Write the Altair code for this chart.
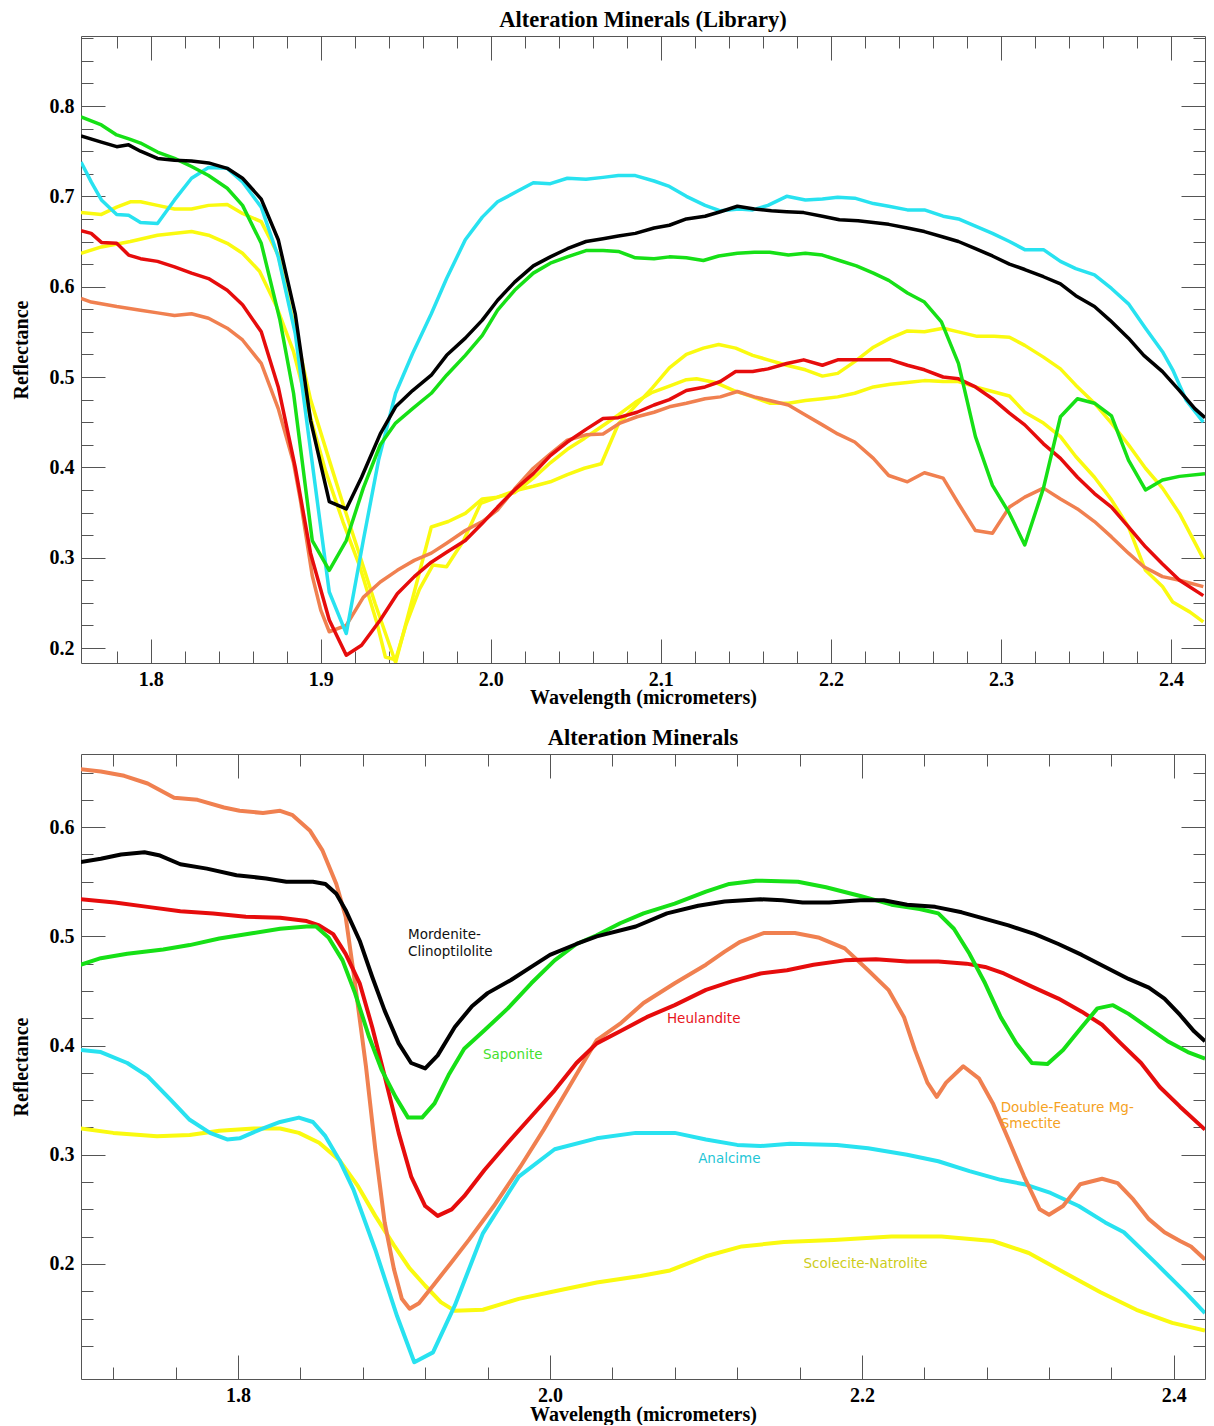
import altair as alt
import pandas as pd

# ---------------- data: top panel (library spectra) ----------------
top_black = [(1.759,0.767),(1.771,0.760),(1.780,0.755),(1.787,0.757),(1.794,0.750),(1.804,0.742),(1.814,0.740),(1.824,0.739),(1.834,0.737),(1.845,0.731),(1.854,0.720),(1.865,0.697),(1.875,0.652),(1.885,0.570),(1.894,0.452),(1.905,0.362),(1.915,0.354),(1.924,0.389),(1.935,0.437),(1.944,0.467),(1.954,0.485),(1.965,0.502),(1.974,0.524),(1.985,0.543),(1.995,0.563),(2.004,0.585),(2.014,0.605),(2.025,0.623),(2.035,0.633),(2.045,0.642),(2.056,0.650),(2.066,0.653),(2.075,0.656),(2.085,0.659),(2.096,0.665),(2.105,0.668),(2.115,0.675),(2.126,0.678),(2.135,0.683),(2.145,0.689),(2.155,0.686),(2.165,0.684),(2.174,0.683),(2.184,0.682),(2.195,0.678),(2.205,0.674),(2.216,0.673),(2.225,0.671),(2.234,0.669),(2.245,0.665),(2.255,0.661),(2.266,0.655),(2.275,0.650),(2.285,0.642),(2.295,0.634),(2.305,0.625),(2.314,0.619),(2.325,0.611),(2.335,0.603),(2.344,0.590),(2.355,0.578),(2.364,0.563),(2.375,0.543),(2.384,0.524),(2.395,0.506),(2.405,0.485),(2.414,0.465),(2.420,0.455)]
top_green = [(1.759,0.788),(1.771,0.779),(1.780,0.768),(1.788,0.763),(1.794,0.759),(1.804,0.749),(1.814,0.742),(1.824,0.733),(1.834,0.723),(1.845,0.709),(1.854,0.690),(1.865,0.648),(1.876,0.563),(1.884,0.482),(1.895,0.319),(1.905,0.286),(1.915,0.319),(1.925,0.377),(1.935,0.425),(1.944,0.449),(1.954,0.465),(1.965,0.482),(1.974,0.502),(1.985,0.524),(1.995,0.546),(2.004,0.574),(2.014,0.596),(2.025,0.615),(2.035,0.626),(2.045,0.633),(2.056,0.640),(2.066,0.640),(2.075,0.639),(2.085,0.632),(2.096,0.631),(2.105,0.633),(2.115,0.632),(2.125,0.629),(2.134,0.634),(2.145,0.637),(2.155,0.638),(2.164,0.638),(2.175,0.635),(2.185,0.637),(2.195,0.635),(2.205,0.629),(2.215,0.623),(2.225,0.615),(2.234,0.607),(2.245,0.593),(2.255,0.583),(2.265,0.561),(2.275,0.515),(2.285,0.434),(2.295,0.380),(2.305,0.349),(2.314,0.314),(2.325,0.377),(2.335,0.456),(2.345,0.476),(2.355,0.471),(2.365,0.457),(2.375,0.408),(2.385,0.375),(2.395,0.386),(2.405,0.390),(2.420,0.393)]
top_cyan = [(1.759,0.738),(1.765,0.716),(1.771,0.696),(1.780,0.680),(1.787,0.679),(1.794,0.671),(1.804,0.670),(1.814,0.696),(1.824,0.720),(1.834,0.732),(1.845,0.731),(1.854,0.716),(1.865,0.688),(1.875,0.633),(1.885,0.548),(1.894,0.419),(1.905,0.262),(1.915,0.216),(1.925,0.319),(1.934,0.408),(1.944,0.482),(1.954,0.526),(1.965,0.570),(1.974,0.609),(1.985,0.652),(1.995,0.677),(2.004,0.694),(2.015,0.705),(2.025,0.715),(2.035,0.714),(2.045,0.720),(2.056,0.719),(2.066,0.721),(2.075,0.723),(2.085,0.723),(2.096,0.717),(2.105,0.711),(2.115,0.700),(2.126,0.690),(2.135,0.684),(2.146,0.686),(2.154,0.685),(2.163,0.690),(2.174,0.700),(2.185,0.696),(2.195,0.697),(2.204,0.699),(2.214,0.698),(2.225,0.692),(2.234,0.689),(2.245,0.685),(2.255,0.685),(2.266,0.678),(2.275,0.675),(2.285,0.667),(2.295,0.659),(2.305,0.650),(2.314,0.641),(2.325,0.641),(2.335,0.628),(2.344,0.620),(2.355,0.613),(2.365,0.598),(2.375,0.581),(2.385,0.554),(2.395,0.528),(2.401,0.508),(2.409,0.474),(2.419,0.450)]
top_yellow_a = [(1.759,0.682),(1.771,0.680),(1.780,0.688),(1.788,0.694),(1.794,0.694),(1.804,0.690),(1.814,0.686),(1.824,0.686),(1.834,0.690),(1.845,0.691),(1.854,0.681),(1.865,0.672),(1.875,0.635),(1.884,0.560),(1.894,0.475),(1.905,0.408),(1.913,0.360),(1.922,0.308),(1.932,0.249),(1.944,0.184),(1.955,0.262),(1.965,0.334),(1.975,0.340),(1.985,0.349),(1.995,0.365),(2.004,0.367),(2.014,0.374),(2.025,0.379),(2.035,0.384),(2.045,0.392),(2.055,0.399),(2.065,0.404),(2.075,0.448),(2.086,0.470),(2.095,0.488),(2.105,0.510),(2.115,0.525),(2.125,0.532),(2.134,0.536),(2.144,0.532),(2.154,0.524),(2.163,0.519),(2.174,0.513),(2.185,0.508),(2.195,0.501),(2.204,0.504),(2.214,0.517),(2.225,0.533),(2.235,0.543),(2.245,0.551),(2.255,0.550),(2.266,0.554),(2.275,0.550),(2.286,0.545),(2.296,0.545),(2.305,0.544),(2.314,0.535),(2.325,0.522),(2.335,0.509),(2.344,0.491),(2.355,0.471),(2.365,0.449),(2.375,0.425),(2.385,0.399),(2.395,0.377),(2.405,0.349),(2.419,0.299)]
top_yellow_b = [(1.759,0.637),(1.771,0.644),(1.788,0.650),(1.804,0.657),(1.824,0.661),(1.834,0.657),(1.845,0.648),(1.854,0.637),(1.864,0.617),(1.874,0.578),(1.884,0.528),(1.894,0.455),(1.903,0.395),(1.913,0.340),(1.923,0.290),(1.933,0.228),(1.938,0.190),(1.944,0.187),(1.950,0.225),(1.958,0.265),(1.966,0.292),(1.974,0.290),(1.984,0.319),(1.994,0.360),(2.004,0.367),(2.014,0.372),(2.025,0.388),(2.035,0.405),(2.045,0.420),(2.055,0.432),(2.065,0.445),(2.075,0.458),(2.085,0.472),(2.095,0.483),(2.105,0.490),(2.115,0.497),(2.121,0.498),(2.132,0.494),(2.143,0.485),(2.154,0.478),(2.164,0.471),(2.175,0.471),(2.185,0.474),(2.195,0.476),(2.204,0.478),(2.214,0.482),(2.225,0.489),(2.235,0.492),(2.245,0.494),(2.255,0.496),(2.266,0.495),(2.275,0.495),(2.285,0.489),(2.295,0.484),(2.305,0.479),(2.314,0.461),(2.325,0.449),(2.335,0.434),(2.344,0.412),(2.355,0.389),(2.365,0.364),(2.375,0.334),(2.385,0.286),(2.395,0.268),(2.401,0.251),(2.411,0.240),(2.419,0.229)]
top_red = [(1.759,0.662),(1.765,0.659),(1.771,0.649),(1.780,0.648),(1.787,0.635),(1.794,0.631),(1.804,0.628),(1.814,0.622),(1.824,0.615),(1.834,0.609),(1.845,0.596),(1.854,0.580),(1.865,0.550),(1.875,0.489),(1.885,0.400),(1.894,0.305),(1.905,0.231),(1.915,0.192),(1.924,0.203),(1.935,0.231),(1.945,0.260),(1.955,0.279),(1.965,0.295),(1.974,0.306),(1.985,0.319),(1.995,0.338),(2.004,0.356),(2.014,0.375),(2.025,0.393),(2.035,0.413),(2.045,0.428),(2.056,0.442),(2.066,0.454),(2.075,0.455),(2.086,0.461),(2.096,0.469),(2.105,0.475),(2.115,0.485),(2.126,0.489),(2.135,0.495),(2.144,0.506),(2.154,0.506),(2.163,0.509),(2.174,0.515),(2.184,0.519),(2.195,0.513),(2.204,0.519),(2.215,0.519),(2.226,0.519),(2.235,0.519),(2.245,0.513),(2.255,0.508),(2.266,0.500),(2.275,0.498),(2.285,0.489),(2.295,0.476),(2.305,0.460),(2.314,0.447),(2.325,0.426),(2.335,0.410),(2.345,0.389),(2.355,0.371),(2.365,0.356),(2.375,0.334),(2.385,0.312),(2.395,0.293),(2.405,0.275),(2.419,0.258)]
top_orange = [(1.759,0.587),(1.765,0.583),(1.780,0.578),(1.794,0.574),(1.804,0.571),(1.814,0.568),(1.824,0.570),(1.834,0.565),(1.845,0.554),(1.854,0.541),(1.865,0.515),(1.875,0.465),(1.884,0.405),(1.888,0.364),(1.895,0.280),(1.900,0.242),(1.905,0.218),(1.915,0.225),(1.925,0.256),(1.935,0.273),(1.945,0.286),(1.955,0.297),(1.965,0.305),(1.974,0.316),(1.985,0.330),(1.995,0.340),(2.004,0.353),(2.014,0.376),(2.025,0.399),(2.035,0.415),(2.045,0.430),(2.056,0.436),(2.066,0.437),(2.076,0.449),(2.086,0.456),(2.096,0.461),(2.105,0.467),(2.115,0.471),(2.126,0.476),(2.135,0.478),(2.145,0.484),(2.155,0.478),(2.164,0.474),(2.175,0.469),(2.185,0.458),(2.195,0.447),(2.204,0.437),(2.214,0.428),(2.225,0.410),(2.234,0.391),(2.245,0.384),(2.255,0.394),(2.266,0.388),(2.275,0.360),(2.285,0.330),(2.295,0.327),(2.305,0.356),(2.314,0.367),(2.325,0.377),(2.335,0.365),(2.345,0.354),(2.355,0.340),(2.365,0.323),(2.375,0.305),(2.384,0.290),(2.395,0.279),(2.405,0.275),(2.419,0.268)]

# ---------------- data: bottom panel (image spectra) ----------------
bot_black = [(1.699,0.568),(1.712,0.571),(1.725,0.575),(1.740,0.577),(1.750,0.574),(1.763,0.566),(1.780,0.562),(1.799,0.556),(1.818,0.553),(1.831,0.550),(1.848,0.550),(1.856,0.548),(1.863,0.539),(1.869,0.524),(1.878,0.496),(1.886,0.463),(1.894,0.432),(1.903,0.402),(1.911,0.384),(1.920,0.379),(1.928,0.391),(1.939,0.417),(1.950,0.436),(1.960,0.448),(1.975,0.460),(1.988,0.472),(2.000,0.483),(2.017,0.493),(2.030,0.500),(2.055,0.509),(2.075,0.521),(2.095,0.528),(2.112,0.532),(2.135,0.534),(2.149,0.533),(2.162,0.531),(2.179,0.531),(2.199,0.533),(2.214,0.533),(2.229,0.529),(2.247,0.527),(2.264,0.522),(2.279,0.516),(2.294,0.510),(2.311,0.502),(2.326,0.493),(2.341,0.483),(2.356,0.472),(2.371,0.461),(2.384,0.453),(2.394,0.443),(2.404,0.428),(2.413,0.413),(2.420,0.404)]
bot_green = [(1.699,0.474),(1.712,0.480),(1.729,0.484),(1.752,0.488),(1.769,0.492),(1.788,0.498),(1.810,0.503),(1.827,0.507),(1.844,0.509),(1.850,0.509),(1.858,0.499),(1.867,0.478),(1.875,0.448),(1.884,0.408),(1.892,0.378),(1.901,0.353),(1.909,0.334),(1.918,0.334),(1.926,0.347),(1.935,0.373),(1.945,0.397),(1.958,0.414),(1.973,0.434),(1.988,0.457),(2.003,0.478),(2.017,0.493),(2.030,0.501),(2.045,0.512),(2.060,0.521),(2.080,0.530),(2.100,0.541),(2.115,0.548),(2.132,0.551),(2.159,0.550),(2.177,0.545),(2.199,0.537),(2.219,0.529),(2.237,0.525),(2.249,0.521),(2.259,0.507),(2.269,0.484),(2.279,0.457),(2.289,0.426),(2.299,0.402),(2.309,0.384),(2.319,0.383),(2.329,0.396),(2.341,0.417),(2.351,0.434),(2.361,0.437),(2.371,0.429),(2.384,0.416),(2.396,0.404),(2.409,0.394),(2.420,0.388)]
bot_red = [(1.699,0.534),(1.721,0.531),(1.742,0.527),(1.763,0.523),(1.784,0.521),(1.805,0.518),(1.827,0.517),(1.844,0.514),(1.852,0.510),(1.861,0.502),(1.869,0.484),(1.878,0.457),(1.886,0.417),(1.894,0.372),(1.903,0.320),(1.911,0.280),(1.920,0.253),(1.928,0.244),(1.937,0.250),(1.945,0.262),(1.958,0.286),(1.973,0.311),(1.988,0.335),(2.003,0.359),(2.017,0.384),(2.030,0.402),(2.045,0.413),(2.062,0.426),(2.080,0.437),(2.100,0.451),(2.117,0.459),(2.135,0.466),(2.152,0.469),(2.169,0.474),(2.189,0.478),(2.209,0.479),(2.229,0.477),(2.249,0.477),(2.267,0.475),(2.279,0.472),(2.291,0.466),(2.309,0.454),(2.326,0.443),(2.341,0.431),(2.354,0.419),(2.366,0.402),(2.379,0.384),(2.391,0.362),(2.404,0.344),(2.420,0.323)]
bot_orange = [(1.699,0.653),(1.712,0.651),(1.727,0.647),(1.742,0.640),(1.759,0.627),(1.774,0.625),(1.791,0.618),(1.801,0.615),(1.816,0.613),(1.827,0.615),(1.835,0.611),(1.846,0.597),(1.854,0.579),(1.863,0.548),(1.869,0.518),(1.875,0.457),(1.882,0.381),(1.888,0.305),(1.894,0.238),(1.900,0.195),(1.905,0.168),(1.910,0.159),(1.916,0.164),(1.925,0.180),(1.936,0.200),(1.948,0.222),(1.964,0.253),(1.981,0.289),(1.996,0.323),(2.011,0.359),(2.030,0.405),(2.045,0.420),(2.060,0.439),(2.080,0.457),(2.100,0.474),(2.112,0.486),(2.122,0.495),(2.137,0.503),(2.157,0.503),(2.172,0.499),(2.189,0.489),(2.204,0.469),(2.217,0.451),(2.227,0.426),(2.234,0.396),(2.242,0.366),(2.248,0.353),(2.254,0.366),(2.265,0.381),(2.275,0.370),(2.284,0.347),(2.294,0.314),(2.304,0.280),(2.314,0.250),(2.320,0.245),(2.329,0.253),(2.340,0.273),(2.354,0.278),(2.364,0.274),(2.374,0.259),(2.384,0.241),(2.394,0.229),(2.404,0.221),(2.411,0.216),(2.420,0.204)]
bot_cyan = [(1.699,0.396),(1.712,0.394),(1.729,0.384),(1.742,0.372),(1.757,0.350),(1.769,0.332),(1.782,0.320),(1.793,0.314),(1.801,0.315),(1.814,0.323),(1.827,0.330),(1.839,0.334),(1.848,0.330),(1.856,0.317),(1.865,0.295),(1.874,0.268),(1.888,0.213),(1.902,0.152),(1.913,0.110),(1.925,0.119),(1.939,0.162),(1.957,0.228),(1.980,0.280),(2.003,0.305),(2.030,0.315),(2.055,0.320),(2.080,0.320),(2.100,0.314),(2.120,0.309),(2.135,0.308),(2.154,0.310),(2.184,0.309),(2.204,0.306),(2.229,0.300),(2.249,0.294),(2.269,0.285),(2.289,0.277),(2.304,0.273),(2.321,0.265),(2.339,0.253),(2.356,0.238),(2.368,0.229),(2.389,0.200),(2.408,0.173),(2.420,0.155)]
bot_yellow = [(1.699,0.324),(1.720,0.320),(1.748,0.317),(1.769,0.318),(1.788,0.322),(1.810,0.324),(1.827,0.324),(1.839,0.320),(1.852,0.311),(1.865,0.295),(1.877,0.271),(1.888,0.244),(1.900,0.217),(1.910,0.196),(1.920,0.180),(1.930,0.165),(1.939,0.157),(1.957,0.158),(1.980,0.168),(2.003,0.175),(2.030,0.183),(2.058,0.189),(2.077,0.194),(2.100,0.207),(2.123,0.216),(2.150,0.220),(2.182,0.222),(2.219,0.225),(2.251,0.225),(2.284,0.221),(2.307,0.210),(2.330,0.192),(2.353,0.174),(2.376,0.158),(2.399,0.146),(2.420,0.139)]

# ---------------- bottom panel labels ----------------
label_text = ["Mordenite-", "Clinoptilolite", "Saponite", "Heulandite", "Double-Feature Mg-", "Smectite", "Analcime", "Scolecite-Natrolite"]
label_wl = [1.909, 1.909, 1.957, 2.075, 2.289, 2.289, 2.095, 2.1625]
label_refl = [0.501, 0.486, 0.391, 0.4245, 0.3427, 0.3284, 0.296, 0.2003]
label_color = ["#111111", "#111111", "#45e02e", "#e8141c", "#f5a21f", "#f5a21f", "#1fc6d6", "#cccc1a"]

# ---------------- axes ----------------
top_xdom = [1.759, 2.420]
top_ydom = [0.1834, 0.8775]
top_xmaj = [1.8, 1.9, 2.0, 2.1, 2.2, 2.3, 2.4]
top_xmin = [1.78, 1.82, 1.84, 1.86, 1.88, 1.92, 1.94, 1.96, 1.98, 2.02, 2.04, 2.06, 2.08,
            2.12, 2.14, 2.16, 2.18, 2.22, 2.24, 2.26, 2.28, 2.32, 2.34, 2.36, 2.38]
top_ymaj = [0.2, 0.3, 0.4, 0.5, 0.6, 0.7, 0.8]
top_ymin = [0.225, 0.25, 0.275, 0.325, 0.35, 0.375, 0.425, 0.45, 0.475, 0.525, 0.55, 0.575,
            0.625, 0.65, 0.675, 0.725, 0.75, 0.775, 0.825, 0.85, 0.875]

bot_xdom = [1.6993, 2.420]
bot_ydom = [0.0946, 0.667]
bot_xmaj = [1.8, 2.0, 2.2, 2.4]
bot_xmin = [1.72, 1.76, 1.84, 1.88, 1.92, 1.96, 2.04, 2.08, 2.12, 2.16, 2.24, 2.28, 2.32, 2.36]
bot_ymaj = [0.2, 0.3, 0.4, 0.5, 0.6]
bot_ymin = [0.125, 0.15, 0.175, 0.225, 0.25, 0.275, 0.325, 0.35, 0.375, 0.425, 0.45, 0.475,
            0.525, 0.55, 0.575, 0.625, 0.65]

BLACK, GREEN, CYAN, YELLOW, RED, ORANGE = "#000000", "#16e016", "#28e2f0", "#fafa10", "#e60c0c", "#f08050"
SERIF = "Liberation Serif"
AXC = "#555555"
W = 1124


def to_df(pairs):
    return pd.DataFrame({"wl": [p[0] for p in pairs], "refl": [p[1] for p in pairs]})


def panel(series, xdom, ydom, xmaj, xmin, ymaj, ymin, H, title, sw, xtitle_pad, labels=None):
    xs = alt.Scale(domain=xdom, nice=False, zero=False)
    ys = alt.Scale(domain=ydom, nice=False, zero=False)
    layers = []
    base = pd.DataFrame({"wl": [xdom[0]], "refl": [ydom[0]]})
    layers.append(alt.Chart(base).mark_point(opacity=0).encode(
        x=alt.X("wl:Q", scale=xs, axis=alt.Axis(
            values=xmaj, format=".1f", ticks=False, domain=False, grid=False, labelFlush=False,
            labelFont=SERIF, labelFontWeight="bold", labelFontSize=20, labelColor="black",
            labelPadding=6, title="Wavelength (micrometers)", titleFont=SERIF,
            titleFontWeight="bold", titleFontSize=20, titleColor="black",
            titlePadding=xtitle_pad)),
        y=alt.Y("refl:Q", scale=ys, axis=alt.Axis(
            values=ymaj, format=".1f", ticks=False, domain=False, grid=False, labelFlush=False,
            labelFont=SERIF, labelFontWeight="bold", labelFontSize=20, labelColor="black",
            labelPadding=7, title="Reflectance", titleFont=SERIF, titleFontWeight="bold",
            titleFontSize=20, titleColor="black", titlePadding=18)),
    ))
    for pairs, col in series:
        layers.append(alt.Chart(to_df(pairs)).mark_line(
            color=col, strokeWidth=sw, strokeJoin="round", clip=True).encode(
            x=alt.X("wl:Q", scale=xs, axis=None),
            y=alt.Y("refl:Q", scale=ys, axis=None)))
    if labels is not None:
        layers.append(alt.Chart(labels).mark_text(
            align="left", baseline="middle", font="DejaVu Sans", fontSize=13.5).encode(
            x=alt.X("wl:Q", scale=xs, axis=None),
            y=alt.Y("refl:Q", scale=ys, axis=None),
            text="text:N",
            color=alt.Color("color:N", scale=None)))

    def tick_layer(vals, ch, orient, size, offset):
        ax = alt.Axis(orient=orient, offset=offset, values=vals, tickSize=size, tickColor=AXC,
                      tickWidth=1, labels=False, domain=False, grid=False, title=None)
        if ch == "x":
            d = pd.DataFrame({"t": vals, "o": [ydom[0]] * len(vals)})
            enc = {"x": alt.X("t:Q", scale=xs, axis=ax), "y": alt.Y("o:Q", scale=ys, axis=None)}
        else:
            d = pd.DataFrame({"t": vals, "o": [xdom[0]] * len(vals)})
            enc = {"y": alt.Y("t:Q", scale=ys, axis=ax), "x": alt.X("o:Q", scale=xs, axis=None)}
        return alt.Chart(d).mark_point(opacity=0).encode(**enc)

    layers += [
        tick_layer(xmaj, "x", "top", 24, -H),
        tick_layer(xmin, "x", "top", 12, -H),
        tick_layer(xmaj, "x", "bottom", 24, -H),
        tick_layer(xmin, "x", "bottom", 12, -H),
        tick_layer(ymaj, "y", "right", 24, -W),
        tick_layer(ymin, "y", "right", 12, -W),
        tick_layer(ymaj, "y", "left", 24, -W),
        tick_layer(ymin, "y", "left", 12, -W),
    ]
    return alt.layer(*layers).resolve_axis(x="independent", y="independent").properties(
        width=W, height=H,
        title=alt.TitleParams(title, font=SERIF, fontSize=22.5, fontWeight="bold", color="black",
                              anchor="middle", frame="group", offset=3.6))


top = panel([(top_yellow_b, YELLOW), (top_yellow_a, YELLOW), (top_orange, ORANGE), (top_red, RED),
             (top_cyan, CYAN), (top_green, GREEN), (top_black, BLACK)],
            top_xdom, top_ydom, top_xmaj, top_xmin, top_ymaj, top_ymin, 627,
            "Alteration Minerals (Library)", 3.5, -2)

lab_df = pd.DataFrame({"wl": label_wl, "refl": label_refl, "text": label_text, "color": label_color})
bottom = panel([(bot_yellow, YELLOW), (bot_cyan, CYAN), (bot_orange, ORANGE), (bot_red, RED),
                (bot_green, GREEN), (bot_black, BLACK)],
               bot_xdom, bot_ydom, bot_xmaj, bot_xmin, bot_ymaj, bot_ymin, 625,
               "Alteration Minerals", 4, -1, labels=lab_df)

chart = alt.vconcat(top, bottom, spacing=18).properties(
    padding={"left": 2, "top": 0, "right": 0, "bottom": 0},
    background="white",
).configure_view(stroke=AXC, strokeWidth=1)

chart.save("out.html", embed_options={"renderer": "svg", "actions": False})
